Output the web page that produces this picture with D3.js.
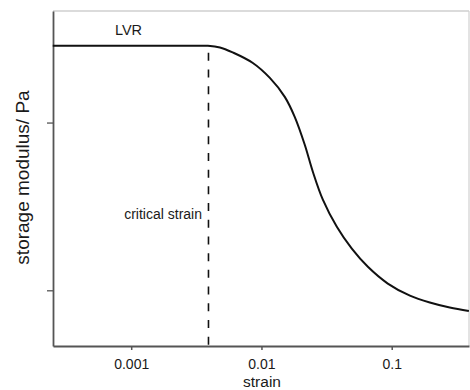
<!DOCTYPE html>
<html><head><meta charset="utf-8">
<script src="https://cdn.jsdelivr.net/npm/d3@7"></script>
<style>
html,body{margin:0;padding:0;background:#fff;}
svg{display:block;}
text{font-family:"Liberation Sans",Arial,sans-serif;fill:#1a1a1a;}
</style></head><body>
<svg id="c" width="470" height="390"></svg>
<script>
// strain values (log axis)
const strain = [0.00025,0.0031,0.00388,0.0048,0.00602,0.00859,0.0116,0.0151,0.018,0.0215,0.0248,0.0296,0.0379,0.0494,0.0656,0.0933,0.138,0.196,0.279,0.391];
// storage modulus (arbitrary units, log axis)
const modulus = [28700,28700,28700,28050,26180,22650,18450,14220,10810,7370,5090,3470,2390,1770,1380,1097,929,845,789,752];
const xTickValues = [0.001,0.01,0.1];
const xTickLabels = ["0.001","0.01","0.1"];
const yTickValues = [1000,10000];
const criticalStrain = 0.00392;
const plateau = 28700;

const svg = d3.select("#c");
const m = {l:53,t:11,r:1,b:44};
const W = 470, H = 390;
const x = d3.scaleLog().domain([0.000251,0.392]).range([m.l, W-m.r]);
const y = d3.scaleLog().domain([465.5,46240]).range([H-m.b, m.t]);

// top/right border
svg.append("line").attr("x1",m.l).attr("x2",W-m.r).attr("y1",m.t).attr("y2",m.t).attr("stroke","#b8b8b8").attr("stroke-width",1.2);
svg.append("line").attr("x1",W-m.r).attr("x2",W-m.r).attr("y1",m.t).attr("y2",H-m.b).attr("stroke","#d0d0d0").attr("stroke-width",1.2);

const xAxis = d3.axisBottom(x).tickValues(xTickValues).tickFormat((d,i)=>xTickLabels[i]).tickSize(4).tickSizeOuter(0).tickPadding(9.5);
const gx = svg.append("g").attr("transform",`translate(0,${H-m.b})`).call(xAxis);
gx.select(".domain").attr("stroke","#555").attr("stroke-width",1.8);
gx.selectAll(".tick line").attr("stroke","#555").attr("stroke-width",1.5);
gx.selectAll(".tick text").attr("font-size",14).attr("fill","#1a1a1a").attr("font-family","Liberation Sans, Arial, sans-serif");

const yAxis = d3.axisLeft(y).tickValues(yTickValues).tickFormat("").tickSize(6).tickSizeOuter(0);
const gy = svg.append("g").attr("transform",`translate(${m.l},0)`).call(yAxis);
gy.select(".domain").attr("stroke","#555").attr("stroke-width",1.8);
gy.selectAll(".tick line").attr("stroke","#555").attr("stroke-width",1.3);

// dashed critical strain line
svg.append("line").attr("x1",x(criticalStrain)).attr("x2",x(criticalStrain))
  .attr("y1",y(plateau)+7).attr("y2",H-m.b)
  .attr("stroke","#111").attr("stroke-width",1.6).attr("stroke-dasharray","8,8.7");

// curve
const pts = strain.map((s,i)=>[s,modulus[i]]);
const line = d3.line().x(d=>x(d[0])).y(d=>y(d[1])).curve(d3.curveCatmullRom.alpha(0.5));
svg.append("path").attr("d",line(pts)).attr("fill","none").attr("stroke","#111").attr("stroke-width",2);

// annotations
svg.append("text").attr("x",128.5).attr("y",35).attr("text-anchor","middle").attr("font-size",14.5).text("LVR");
svg.append("text").attr("x",202).attr("y",219).attr("text-anchor","end").attr("font-size",14).text("critical strain");

// axis titles
svg.append("text").attr("x",262).attr("y",386.5).attr("text-anchor","middle").attr("font-size",15.5).text("strain");
svg.append("text").attr("transform","translate(28.5,177.5) rotate(-90)").attr("text-anchor","middle").attr("font-size",19).text("storage modulus/ Pa");
</script>
</body></html>
